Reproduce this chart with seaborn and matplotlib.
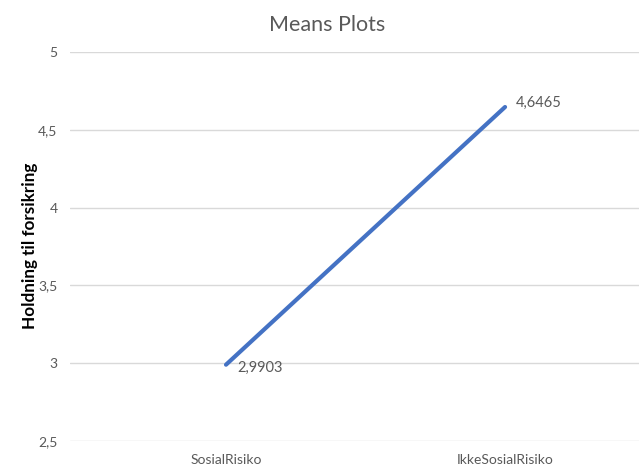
import matplotlib
matplotlib.use("Agg")
import matplotlib.pyplot as plt
from matplotlib.ticker import FuncFormatter
import seaborn as sns
import pandas as pd

groups = ["SosialRisiko", "IkkeSosialRisiko"]
means = [2.9903, 4.6465]
y_ticks = [2.5, 3, 3.5, 4, 4.5, 5]

sns.set_style("white")
plt.rcParams["font.family"] = ["Lato", "DejaVu Sans"]

df = pd.DataFrame({"pos": range(len(groups)), "mean": means})

fig = plt.figure(figsize=(6.39, 4.74), dpi=100)
ax = fig.add_axes([70 / 639, 1 - 441 / 474, 1 - 70 / 639, (441 - 52) / 474])

sns.lineplot(data=df, x="pos", y="mean", ax=ax, color="#4472C4", linewidth=3,
             solid_capstyle="round", zorder=3)

ax.set_xlim(-0.559, 1.480)
ax.set_ylim(2.5, 5)
ax.set_yticks(y_ticks)
ax.yaxis.set_major_formatter(FuncFormatter(lambda v, _: f"{v:g}".replace(".", ",")))
ax.set_xticks(range(len(groups)))
ax.set_xticklabels(groups)
ax.tick_params(axis="both", length=0, labelsize=10, colors="#595959")
ax.tick_params(axis="y", pad=9)
ax.tick_params(axis="x", pad=9)
ax.grid(axis="y", color="#d9d9d9", linewidth=1)
ax.set_axisbelow(True)
for s in ax.spines.values():
    s.set_visible(False)

ax.set_xlabel("")
ax.set_ylabel("")
fig.text(30 / 639, 1 - 246 / 474, "Holdning til forsikring", fontsize=12.3,
         fontweight="bold", color="black", rotation=90, ha="center", va="center")

for i, v in enumerate(means):
    dy = -2 if i == 0 else 3
    ax.annotate(f"{v:.4f}".replace(".", ","), (i, v), xytext=(8, dy),
                textcoords="offset points", fontsize=10.5, color="#595959",
                va="center", ha="left")

fig.text(327 / 639, 1 - 25 / 474, "Means Plots", fontsize=15.5, color="#595959",
         ha="center", va="center")

fig.savefig("out.png", dpi=100)
